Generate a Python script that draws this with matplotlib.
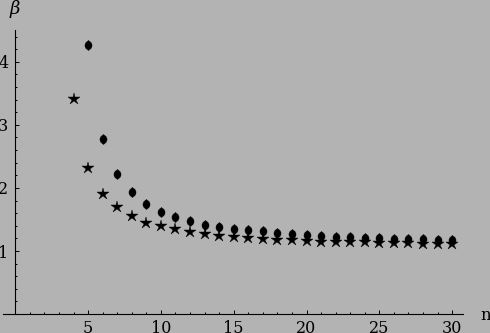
import matplotlib
matplotlib.use('Agg')
import matplotlib.pyplot as plt
import numpy as np
from matplotlib.ticker import FixedLocator

# values
n_star = [4, 5, 6, 7, 8, 9, 10, 11, 12, 13, 14, 15, 16, 17, 18, 19, 20,
          21, 22, 23, 24, 25, 26, 27, 28, 29, 30]
beta_star = [3.41, 2.31, 1.90, 1.69, 1.55, 1.45, 1.39, 1.35, 1.30, 1.27, 1.24,
             1.22, 1.21, 1.19, 1.18, 1.17, 1.16, 1.15, 1.145, 1.14, 1.135,
             1.13, 1.125, 1.12, 1.115, 1.11, 1.105]

n_diam = [5, 6, 7, 8, 9, 10, 11, 12, 13, 14, 15, 16, 17, 18, 19, 20,
          21, 22, 23, 24, 25, 26, 27, 28, 29, 30]
beta_diam = [4.26, 2.78, 2.22, 1.94, 1.75, 1.62, 1.54, 1.48, 1.42, 1.38, 1.35,
             1.33, 1.31, 1.29, 1.27, 1.25, 1.24, 1.23, 1.22, 1.21, 1.20,
             1.195, 1.19, 1.185, 1.18, 1.175]

x_ticks = [5, 10, 15, 20, 25, 30]
y_ticks = [1, 2, 3, 4]
x_minor = list(range(1, 31))
y_minor = [round(0.2 * i, 1) for i in range(1, 23)]

bg = '#b3b3b3'
font = 'DejaVu Serif'
plt.rcParams['mathtext.fontset'] = 'dejavuserif'

fig = plt.figure(figsize=(4.9, 3.33), dpi=100, facecolor=bg)
ax = fig.add_axes([0, 0, 1, 1], facecolor=bg)

# rounded diamond marker
diam = [(0, 1), (0.5, 0.6), (0.7, 0.2), (0.7, -0.2), (0.5, -0.6),
        (0, -1), (-0.5, -0.6), (-0.7, -0.2), (-0.7, 0.2), (-0.5, 0.6), (0, 1)]

ax.plot(n_star, beta_star, ls='none', marker='*', ms=9, color='black', mew=0.3)
ax.plot(n_diam, beta_diam, ls='none', marker=diam, ms=7.2, color='black', mew=0.3)

ax.set_xlim(-1.05, 32.6)
ax.set_ylim(-0.30, 4.98)

# axes cross at the origin, Mathematica style
for s in ['top', 'right']:
    ax.spines[s].set_visible(False)
ax.spines['left'].set_position(('data', 0))
ax.spines['bottom'].set_position(('data', 0))
ax.spines['left'].set_bounds(0, 4.5)
ax.spines['bottom'].set_bounds(-0.84, 30.75)
ax.spines['left'].set_linewidth(0.8)
ax.spines['bottom'].set_linewidth(0.8)

ax.set_xticks(x_ticks)
ax.set_yticks(y_ticks)
ax.set_xticklabels([str(v) for v in x_ticks], family=font, fontsize=11.5)
ax.set_yticklabels([str(v) for v in y_ticks], family=font, fontsize=11.5)
ax.xaxis.set_minor_locator(FixedLocator(x_minor))
ax.yaxis.set_minor_locator(FixedLocator(y_minor))
ax.tick_params(which='major', direction='in', length=3.2, width=0.7, pad=4)
ax.tick_params(which='minor', direction='in', length=1.7, width=0.7)
ax.tick_params(axis='y', which='major', pad=5)

ax.text(-0.02, 4.84, r'$\beta$', fontsize=13, ha='center', va='center')
ax.text(32.3, -0.03, 'n', family=font, fontsize=12, ha='center', va='center')

fig.savefig('out.png', dpi=100, facecolor=bg)
